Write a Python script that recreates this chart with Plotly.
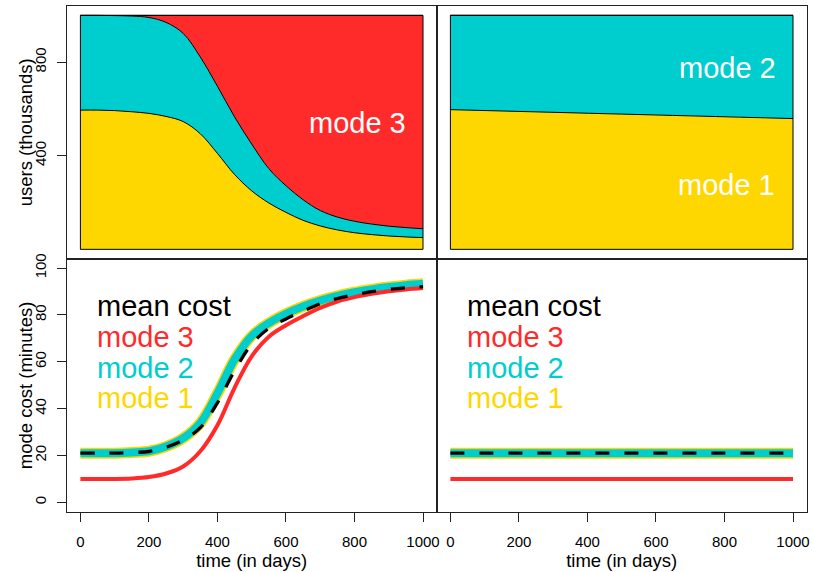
import plotly.graph_objects as go

# ---------------- data ----------------
days = [0, 50, 100, 150, 200, 250, 300, 350, 400, 450, 500,
        550, 600, 650, 700, 750, 800, 850, 900, 950, 1000]

# users (thousands), scenario left
users_mode1 = [595, 595, 593, 588, 581, 568, 546, 494, 410, 320, 250,
               198, 158, 124, 100, 83, 71, 63, 57, 53, 50]
users_mode2 = [405, 405, 406, 409, 410, 402, 377, 328, 287, 246, 200,
               147, 114, 88, 66, 55, 49, 45, 42, 40, 38]
users_mode3 = [0, 0, 1, 3, 9, 30, 77, 178, 303, 434, 550,
               655, 728, 788, 834, 862, 880, 892, 901, 907, 912]

# users (thousands), scenario right
days_right = [0, 500, 1000]
users_mode1_right = [597, 578, 559]
users_mode2_right = [403, 422, 441]
users_mode3_right = [0, 0, 0]

# mode cost (minutes), scenario left
cost_mode1 = [21, 21, 21, 21.3, 21.8, 23.8, 27.4, 33.9, 46.5, 61.0, 71.0,
              76.5, 80.5, 83.6, 86.1, 88.1, 89.7, 90.9, 91.9, 92.7, 93.3]
cost_mode2 = [21, 21, 21, 21.3, 21.8, 23.8, 27.4, 33.9, 46.5, 61.0, 71.0,
              76.5, 80.5, 83.6, 86.1, 88.1, 89.7, 90.9, 91.9, 92.7, 93.3]
cost_mode3 = [10, 10, 10, 10.2, 10.8, 12.3, 15.3, 21.8, 32.9, 48.9, 62.3,
              70.7, 75.6, 79.5, 83.0, 85.7, 87.6, 89.0, 90.1, 90.9, 91.5]
cost_mean = [21, 21, 21, 21.3, 21.7, 23.5, 26.6, 31.9, 42.5, 56.2, 67.5,
             74.3, 78.3, 81.6, 84.8, 87.0, 88.6, 89.9, 90.9, 91.6, 92.1]

# mode cost (minutes), scenario right
cost_days_right = [0, 1000]
cost_mode1_right = [21, 21]
cost_mode2_right = [21, 21]
cost_mode3_right = [10, 10]
cost_mean_right = [21, 21]

x_ticks = [0, 200, 400, 600, 800, 1000]
users_ticks = [400, 800]
cost_ticks = [0, 20, 40, 60, 80, 100]
legend_labels = ["mean cost", "mode 3", "mode 2", "mode 1"]

# ---------------- style ----------------
YEL = "#FFD700"
CYA = "#00CDCD"
RED = "#FF2A2A"
FONT = "Liberation Sans, Arial, Helvetica, sans-serif"
AX = "#222222"

fig = go.Figure()


def add_stack(xs, m1, m2, m3, xa, ya):
    c1 = list(m1)
    c2 = [a + b for a, b in zip(m1, m2)]
    c3 = [a + b + c for a, b, c in zip(m1, m2, m3)]
    common = dict(mode="lines", xaxis=xa, yaxis=ya, showlegend=False,
                  hoverinfo="skip")
    ln = dict(color="black", width=1, shape="spline", smoothing=1.0)
    fig.add_trace(go.Scatter(x=xs, y=c1, fill="tozeroy", fillcolor=YEL,
                             line=ln, **common))
    fig.add_trace(go.Scatter(x=xs, y=c2, fill="tonexty", fillcolor=CYA,
                             line=ln, **common))
    fig.add_trace(go.Scatter(x=xs, y=c3, fill="tonexty", fillcolor=RED,
                             line=ln, **common))
    fig.add_shape(type="rect", xref=xa, yref=ya, x0=xs[0], x1=xs[-1],
                  y0=0, y1=c3[0], line=dict(color="black", width=1),
                  fillcolor="rgba(0,0,0,0)", layer="above")


add_stack(days, users_mode1, users_mode2, users_mode3, "x", "y")
add_stack(days_right, users_mode1_right, users_mode2_right,
          users_mode3_right, "x2", "y2")


def add_costs(xs, c1, c2, c3, cm, xa, ya):
    common = dict(mode="lines", xaxis=xa, yaxis=ya, showlegend=False,
                  hoverinfo="skip")
    fig.add_trace(go.Scatter(x=xs, y=c1, line=dict(color=YEL, width=11,
                             shape="spline", smoothing=1.0), **common))
    fig.add_trace(go.Scatter(x=xs, y=c2, line=dict(color=CYA, width=8,
                             shape="spline", smoothing=1.0), **common))
    fig.add_trace(go.Scatter(x=xs, y=c3, line=dict(color=RED, width=4,
                             shape="spline", smoothing=1.0), **common))
    fig.add_trace(go.Scatter(x=xs, y=cm, line=dict(color="black", width=3.3,
                             dash="14px,15px", shape="spline",
                             smoothing=1.0), **common))


add_costs(days, cost_mode1, cost_mode2, cost_mode3, cost_mean, "x3", "y3")
add_costs(cost_days_right, cost_mode1_right, cost_mode2_right,
          cost_mode3_right, cost_mean_right, "x4", "y4")

# ---------------- text labels ----------------
annots = []
annots.append(dict(text="mode 3", x=957, y=538, xref="x", yref="y"))
annots.append(dict(text="mode 2", x=957, y=773, xref="x2", yref="y2"))
annots.append(dict(text="mode 1", x=953, y=273, xref="x2", yref="y2"))
for a in annots:
    a.update(xanchor="right", yanchor="middle", showarrow=False,
             font=dict(family=FONT, size=29, color="white"))

leg_colors = ["black", RED, CYA, YEL]
leg_y = [84, 70.7, 57.5, 44.7]
for xa, ya in (("x3", "y3"), ("x4", "y4")):
    for lab, col, yy in zip(legend_labels, leg_colors, leg_y):
        annots.append(dict(text=lab, x=42, y=yy, xref=xa, yref=ya,
                           xanchor="left", yanchor="middle", showarrow=False,
                           font=dict(family=FONT, size=29, color=col)))

# ---------------- axes ----------------
XL = [66.7 / 813, 436.7 / 813]
XR = [436.7 / 813, 806.7 / 813]
YT = [(572 - 258.7) / 572, (572 - 6) / 572]
YB = [(572 - 511.7) / 572, (572 - 258.7) / 572]

title_font = dict(family=FONT, size=18.5, color="black")

# y-axis titles (placed as text beside the panels)
for txt, dom in (("users (thousands)", YT), ("mode cost (minutes)", YB)):
    annots.append(dict(text=txt, x=25 / 813, y=(dom[0] + dom[1]) / 2,
                       xref="paper", yref="paper", xanchor="center",
                       yanchor="middle", textangle=-90, showarrow=False,
                       font=title_font))

base = dict(showline=True, mirror=True, linecolor=AX, linewidth=1,
            showgrid=False, zeroline=False, automargin=False,
            tickfont=dict(family=FONT, size=15, color="black"),
            tickcolor=AX, ticklen=9, tickwidth=1)

fig.update_layout(
    width=813, height=572, autosize=False,
    margin=dict(l=0, r=0, t=0, b=0, pad=0),
    paper_bgcolor="white", plot_bgcolor="white",
    showlegend=False,
    annotations=annots,
    xaxis=dict(base, domain=XL, anchor="y", range=[-40, 1040],
               showticklabels=False, ticks=""),
    yaxis=dict(base, domain=YT, anchor="x", range=[-40, 1040],
               tickvals=users_ticks, ticks="outside", tickangle=-90,
               ticklabelstandoff=5),
    xaxis2=dict(base, domain=XR, anchor="y2", range=[-40, 1040],
                showticklabels=False, ticks=""),
    yaxis2=dict(base, domain=YT, anchor="x2", range=[-40, 1040],
                showticklabels=False, ticks=""),
    xaxis3=dict(base, domain=XL, anchor="y3", range=[-40, 1040],
                tickvals=x_ticks, ticks="outside", ticklabelstandoff=7,
                title=dict(text="time (in days)", font=title_font,
                           standoff=0)),
    yaxis3=dict(base, domain=YB, anchor="x3", range=[-4, 104],
                tickvals=cost_ticks, ticks="outside", tickangle=-90,
                ticklabelstandoff=5),
    xaxis4=dict(base, domain=XR, anchor="y4", range=[-40, 1040],
                tickvals=x_ticks, ticks="outside", ticklabelstandoff=7,
                title=dict(text="time (in days)", font=title_font,
                           standoff=0)),
    yaxis4=dict(base, domain=YB, anchor="x4", range=[-4, 104],
                showticklabels=False, ticks=""),
)

fig.write_html("out.html", config={"displayModeBar": False},
               post_script="document.body.style.margin='0';")
